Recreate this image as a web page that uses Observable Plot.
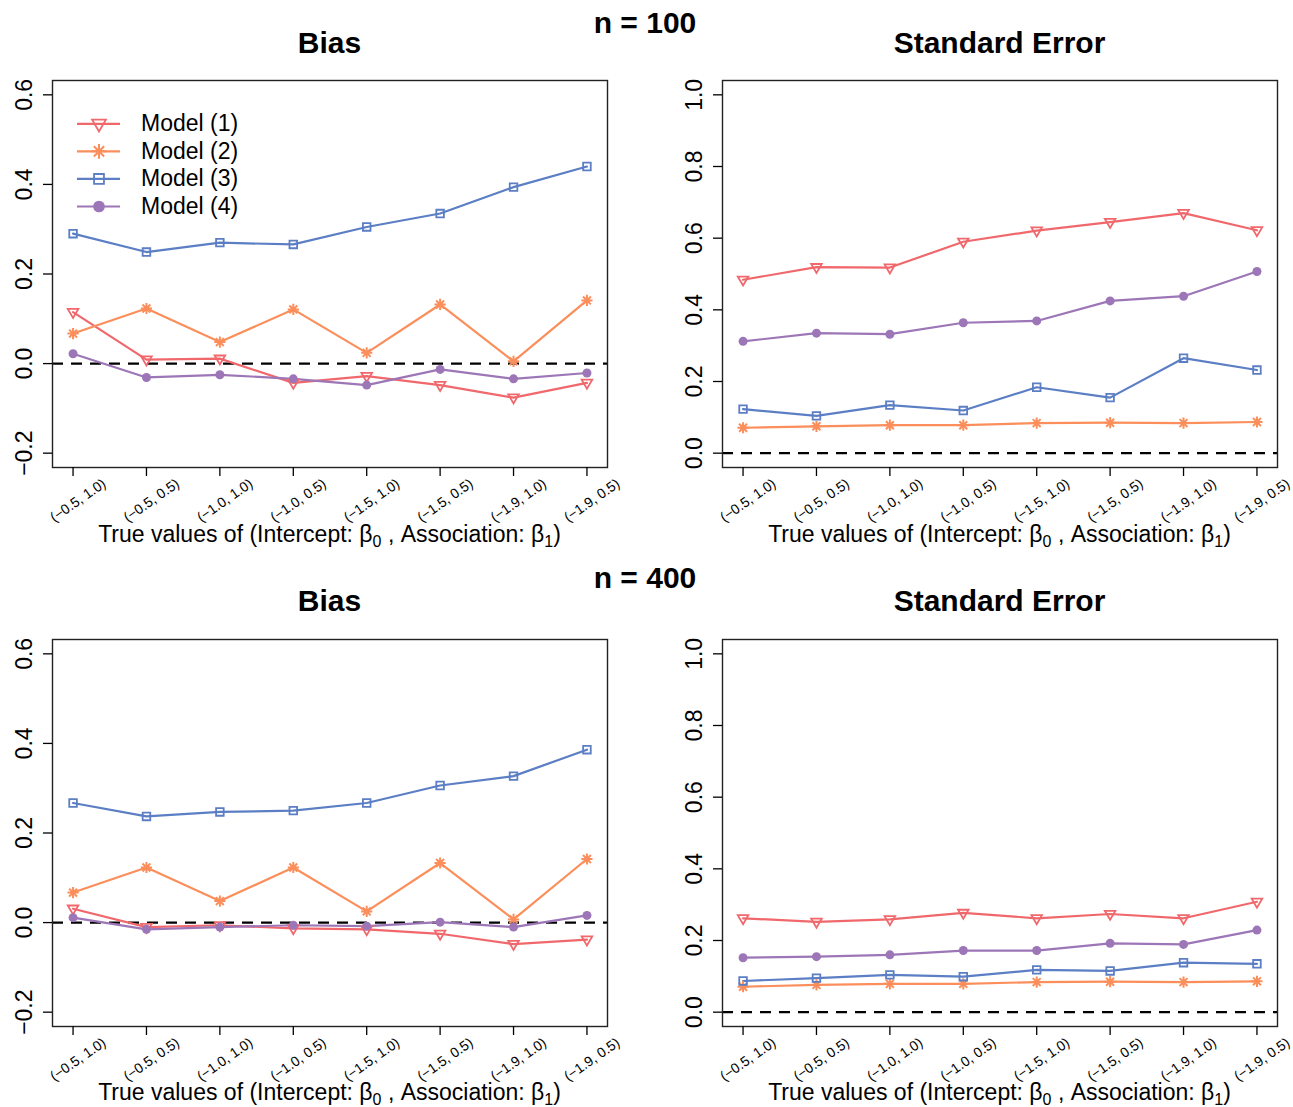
<!DOCTYPE html>
<html>
<head>
<meta charset="utf-8">
<script src="https://cdn.jsdelivr.net/npm/d3@7"></script>
<script src="https://cdn.jsdelivr.net/npm/@observablehq/plot@0.6"></script>
<style>
  body { margin: 0; background: #fff; font-family: "Liberation Sans", Arial, Helvetica, sans-serif; color: #000; }
  #root { position: relative; width: 1293px; height: 1107px; overflow: hidden; background: #fff; }
  .panel { position: absolute; }
  .title { position: absolute; font-weight: bold; font-size: 30px; line-height: 1; white-space: nowrap; transform: translateX(-50%); }
  .xlab { position: absolute; font-size: 23px; line-height: 1; white-space: nowrap; transform: translateX(-50%); }
  .sub { font-size: 16px; position: relative; top: 5px; }
</style>
</head>
<body>
<div id="root"></div>
<script>
// ---------- data ----------
const xCategories = ["(\u22120.5, 1.0)", "(\u22120.5, 0.5)", "(\u22121.0, 1.0)", "(\u22121.0, 0.5)",
                     "(\u22121.5, 1.0)", "(\u22121.5, 0.5)", "(\u22121.9, 1.0)", "(\u22121.9, 0.5)"];
const models = ["Model (1)", "Model (2)", "Model (3)", "Model (4)"];
const colors = ["#F0686C", "#FB8E5A", "#5B7EC4", "#9C76B6"];

// n = 100, Bias
const bias100Model1 = [0.115, 0.009, 0.011, -0.043, -0.028, -0.048, -0.076, -0.043];
const bias100Model2 = [0.067, 0.123, 0.048, 0.121, 0.024, 0.132, 0.005, 0.141];
const bias100Model3 = [0.290, 0.249, 0.270, 0.266, 0.305, 0.335, 0.394, 0.440];
const bias100Model4 = [0.022, -0.031, -0.025, -0.034, -0.048, -0.013, -0.034, -0.021];
// n = 100, Standard Error
const se100Model1 = [0.484, 0.519, 0.518, 0.590, 0.621, 0.645, 0.670, 0.622];
const se100Model2 = [0.071, 0.075, 0.078, 0.078, 0.084, 0.085, 0.084, 0.087];
const se100Model3 = [0.123, 0.104, 0.134, 0.119, 0.184, 0.155, 0.265, 0.232];
const se100Model4 = [0.312, 0.335, 0.332, 0.364, 0.369, 0.425, 0.438, 0.507];
// n = 400, Bias
const bias400Model1 = [0.031, -0.010, -0.006, -0.013, -0.015, -0.025, -0.048, -0.038];
const bias400Model2 = [0.067, 0.123, 0.048, 0.123, 0.025, 0.133, 0.007, 0.142];
const bias400Model3 = [0.267, 0.237, 0.247, 0.250, 0.267, 0.306, 0.327, 0.386];
const bias400Model4 = [0.011, -0.015, -0.010, -0.006, -0.008, 0.001, -0.010, 0.016];
// n = 400, Standard Error
const se400Model1 = [0.262, 0.252, 0.259, 0.277, 0.262, 0.274, 0.262, 0.308];
const se400Model2 = [0.071, 0.076, 0.079, 0.079, 0.084, 0.085, 0.084, 0.086];
const se400Model3 = [0.087, 0.095, 0.104, 0.099, 0.118, 0.115, 0.138, 0.135];
const se400Model4 = [0.152, 0.155, 0.160, 0.172, 0.172, 0.192, 0.189, 0.229];

const xTicks = [1, 2, 3, 4, 5, 6, 7, 8];
const biasTicks = [-0.2, 0.0, 0.2, 0.4, 0.6];
const seTicks = [0.0, 0.2, 0.4, 0.6, 0.8, 1.0];

// ---------- symbols (R pch 6, 8, 0, 16) ----------
const symInvTriangle = { draw(ctx, size) { const r = Math.sqrt(size / Math.PI);
  ctx.moveTo(-r, -0.6 * r); ctx.lineTo(r, -0.6 * r); ctx.lineTo(0, 1.1 * r); ctx.closePath(); } };
const symAsterisk8 = { draw(ctx, size) { const a = Math.sqrt(size / Math.PI), d = a * Math.SQRT1_2;
  ctx.moveTo(0, -a); ctx.lineTo(0, a); ctx.moveTo(-a, 0); ctx.lineTo(a, 0);
  ctx.moveTo(-d, -d); ctx.lineTo(d, d); ctx.moveTo(-d, d); ctx.lineTo(d, -d); } };
const symSquare = { draw(ctx, size) { const s = Math.sqrt(size / Math.PI);
  ctx.moveTo(-s, -s); ctx.lineTo(s, -s); ctx.lineTo(s, s); ctx.lineTo(-s, s); ctx.closePath(); } };
const symCircle = { draw(ctx, size) { const r = Math.sqrt(size / Math.PI);
  ctx.moveTo(r, 0); ctx.arc(0, 0, r, 0, 2 * Math.PI); } };

const symbolSpecs = [
  { symbol: symInvTriangle, r: 5.3, filled: false, sw: 1.8 },
  { symbol: symAsterisk8, r: 5.6, filled: false, sw: 2.0 },
  { symbol: symSquare, r: 3.8, filled: false, sw: 1.8 },
  { symbol: symCircle, r: 4.5, filled: true, sw: 0 }
];

function dotMark(data, k, scale, xAcc, yAcc) {
  const s = symbolSpecs[k];
  return Plot.dot(data, {
    x: xAcc, y: yAcc, symbol: s.symbol, r: s.r * scale,
    fill: s.filled ? colors[k] : "none",
    stroke: colors[k], strokeWidth: s.sw
  });
}

const FONT = '"Liberation Sans", Arial, Helvetica, sans-serif';
const root = document.getElementById("root");

function panel(series, yDomain, yTicks, left, top, withLegend) {
  const plot = Plot.plot({
    width: 52 + 555 + 12, height: 20 + 387 + 70,
    marginLeft: 52, marginRight: 12, marginTop: 20, marginBottom: 70,
    style: { fontFamily: FONT, background: "transparent", color: "#000", overflow: "visible" },
    x: { domain: [0.72, 8.28] },
    y: { domain: yDomain },
    marks: [
      Plot.ruleY([0], { stroke: "#000", strokeWidth: 2.4, strokeDasharray: "11,8" }),
      ...series.map((vals, k) => Plot.line(vals, { x: (d, i) => i + 1, y: d => d, stroke: colors[k], strokeWidth: 2.2 })),
      ...series.map((vals, k) => dotMark(vals, k, 1, (d, i) => i + 1, d => d)),
      Plot.frame({ stroke: "#222", strokeWidth: 1.4 }),
      // tick marks only
      Plot.axisX({ ticks: xTicks, tickSize: 9, strokeWidth: 1.3, fill: "none", label: null }),
      // rotated category labels
      Plot.axisX({ ticks: xTicks, tickSize: 0, tickFormat: d => xCategories[d - 1],
        tickRotate: -35, textAnchor: "middle", lineAnchor: "middle",
        tickPadding: 33, dx: 5, fontSize: 14, label: null }),
      Plot.axisY({ ticks: yTicks, tickSize: 9, strokeWidth: 1.3, tickRotate: -90, tickPadding: 12,
        fontSize: 23, tickFormat: d3.format(".1f"), label: null })
    ]
  });
  plot.classList.add("panel");
  plot.style.left = left + "px";
  plot.style.top = top + "px";
  root.appendChild(plot);

  if (withLegend) {
    const items = models.map((m, i) => ({ m, i }));
    const legend = Plot.plot({
      width: 200, height: 110, margin: 0,
      style: { fontFamily: FONT, background: "transparent", color: "#000", overflow: "visible" },
      x: { domain: [0, 1], range: [7, 50], axis: null },
      y: { domain: [0, 3], range: [13.3, 96], axis: null },
      marks: [
        Plot.ruleY(items, { y: "i", x1: 0, x2: 1, stroke: d => colors[d.i], strokeWidth: 2.2 }),
        ...items.map(d => dotMark([d], d.i, 1.3, () => 0.5, e => e.i)),
        Plot.text(items, { x: 1, y: "i", text: "m", dx: 20.5, textAnchor: "start", lineAnchor: "middle", fontSize: 23, fill: "#000" })
      ]
    });
    legend.classList.add("panel");
    legend.style.left = (left + 70) + "px";
    legend.style.top = (top + 50) + "px";
    root.appendChild(legend);
  }
}

function addText(cls, html, cx, top) {
  const d = document.createElement("div");
  d.className = cls;
  d.innerHTML = html;
  d.style.left = cx + "px";
  d.style.top = top + "px";
  root.appendChild(d);
}

const biasDomain = [-0.232, 0.632];
const seDomain = [-0.04, 1.04];

panel([bias100Model1, bias100Model2, bias100Model3, bias100Model4], biasDomain, biasTicks, 0, 60, true);
panel([se100Model1, se100Model2, se100Model3, se100Model4], seDomain, seTicks, 670, 60, false);
panel([bias400Model1, bias400Model2, bias400Model3, bias400Model4], biasDomain, biasTicks, 0, 619, false);
panel([se400Model1, se400Model2, se400Model3, se400Model4], seDomain, seTicks, 670, 619, false);

const xTitle = 'True values of (Intercept: \u03B2<span class="sub">0</span> , Association: \u03B2<span class="sub">1</span>)';
addText("title", "n = 100", 645, 7.6);
addText("title", "Bias", 329.5, 27.6);
addText("title", "Standard Error", 999.5, 27.6);
addText("xlab", xTitle, 329.5, 522.5);
addText("xlab", xTitle, 999.5, 522.5);
addText("title", "n = 400", 645, 563);
addText("title", "Bias", 329.5, 586.3);
addText("title", "Standard Error", 999.5, 586.3);
addText("xlab", xTitle, 329.5, 1080.5);
addText("xlab", xTitle, 999.5, 1080.5);
</script>
</body>
</html>
